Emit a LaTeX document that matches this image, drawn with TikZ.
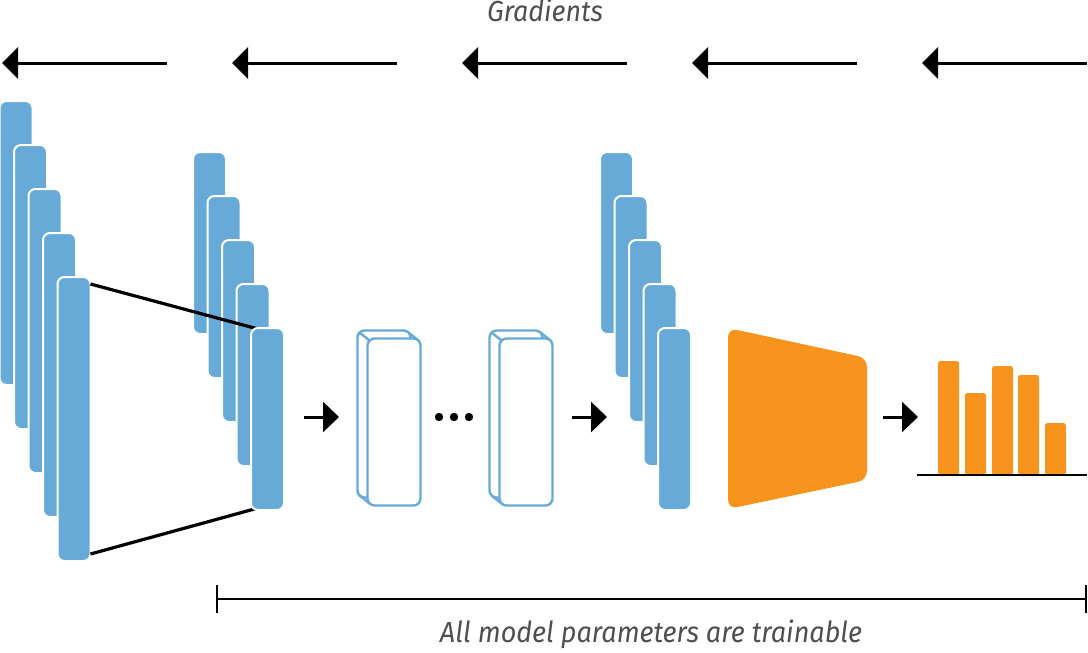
\documentclass[tikz,border=0pt]{standalone}
\usepackage{fontspec}
\setmainfont{Fira Sans}
\usetikzlibrary{arrows.meta}
\pgfdeclarelayer{back}
\pgfdeclarelayer{mid}
\pgfsetlayers{back,mid,main}
\definecolor{cblue}{HTML}{67AAD8}
\definecolor{corange}{HTML}{F7941E}
\definecolor{ctext}{HTML}{4F4F4F}
\begin{document}
\begin{tikzpicture}[x=1pt,y=-1pt,
  bar/.style={fill=cblue, draw=white, line width=2pt, rounded corners=7pt,
              minimum width=33pt, inner sep=0pt, outer sep=0pt},
  tallbar/.style={bar, minimum height=284pt},
  shortbar/.style={bar, minimum height=182pt},
  hollow/.style={fill=white, draw=cblue, line width=2.4pt, rounded corners=7pt,
                 minimum width=53pt, minimum height=167pt, inner sep=0pt, outer sep=0pt},
  boxedge/.style={draw=cblue, line width=2.4pt},
  edgeline/.style={line width=3.2pt, black},
  fwdarrow/.style={line width=3pt, -{Triangle[length=16pt,width=30pt]}},
  gradarrow/.style={line width=3pt, -{Triangle[length=16pt,width=31pt]}},
  probbar/.style={fill=corange, rounded corners=2.5pt},
  caption/.style={text=ctext, font=\fontsize{29}{32}\selectfont\itshape, inner sep=0pt}
]
\useasboundingbox (0,0) rectangle (1088,653);

% gradients label and arrows
\node[caption, anchor=base] (grad) at (545,22) {\resizebox{116pt}{\height}{Gradients}};
\foreach \i in {0,...,4} {
  \coordinate (gs\i) at ({2+230*\i},63);
  \coordinate (ge\i) at ({167+230*\i},63);
  \draw[gradarrow] (ge\i) -- (gs\i);
}

% left stack and middle back bars
\begin{pgfonlayer}{back}
\foreach \i in {1,...,5} {
  \node[tallbar] (L\i) at ({16+14.5*(\i-1)},{243+44*(\i-1)}) {};
}
\foreach \i in {1,...,4} {
  \node[shortbar] (M\i) at ({209.5+14.5*(\i-1)},{243+44*(\i-1)}) {};
}
\end{pgfonlayer}
\node[shortbar] (M5) at ({209.5+14.5*4},{243+44*4}) {};
\begin{pgfonlayer}{mid}
\draw[edgeline] ([yshift=-7pt]L5.north east) -- ([xshift=7pt,yshift=-1pt]M5.north west);
\draw[edgeline] ([yshift=7pt]L5.south east) -- ([xshift=7pt,yshift=2pt]M5.south west);
\end{pgfonlayer}

% hollow boxes (back face, corner edges, front face)
\foreach \b/\x in {1/384, 2/516} {
  \node[hollow] (B\b b) at (\x,414) {};
  \draw[boxedge] ([xshift=2pt,yshift=-2pt]B\b b.north west) -- ++(10,8);
  \draw[boxedge] ([xshift=-2pt,yshift=-2pt]B\b b.north east) -- ++(10,8);
  \draw[boxedge] ([xshift=2pt,yshift=2pt]B\b b.south west) -- ++(10,8);
  \node[hollow] (B\b) at ({\x+10},422) {};
}

% dots
\foreach \x [count=\k] in {439,454,469} {
  \fill (\x,417) circle (4.2pt) coordinate (dot\k);
}

% right stack
\foreach \i in {1,...,5} {
  \node[shortbar] (R\i) at ({616.5+14.5*(\i-1)},{243+44*(\i-1)}) {};
}

% orange head
\fill[corange, rounded corners=9pt] (728,328) -- (867,358) -- (867,480) -- (728,509) -- cycle;
\coordinate (head) at (797,418);

% forward arrows
\coordinate (f1s) at (304,417); \coordinate (f1e) at (339,417);
\coordinate (f2s) at (572,417); \coordinate (f2e) at (607,417);
\coordinate (f3s) at (883,417); \coordinate (f3e) at (918,417);
\draw[fwdarrow] (f1s) -- (f1e);
\draw[fwdarrow] (f2s) -- (f2e);
\draw[fwdarrow] (f3s) -- (f3e);

% bar chart
\fill[probbar] (938,475) rectangle (959,361);
\fill[probbar] (965,475) rectangle (986,393);
\fill[probbar] (992,475) rectangle (1013,366);
\fill[probbar] (1018,475) rectangle (1039,375);
\fill[probbar] (1045,475) rectangle (1066,423);
\coordinate (axl) at (917,475); \coordinate (axr) at (1087,475);
\draw[line width=2.8pt] (axl) -- (axr);

% bracket
\coordinate (brl) at (217,599); \coordinate (brr) at (1086,599);
\draw[line width=2.8pt] (brl) -- (brr);
\draw[line width=2.4pt] ([yshift=-14pt]brl) -- ([yshift=14pt]brl);
\draw[line width=2.4pt] ([yshift=-14pt]brr) -- ([yshift=14pt]brr);
\node[caption, anchor=base] (trainable) at (651,642) {\resizebox{422pt}{\height}{All model parameters are trainable}};
\end{tikzpicture}
\end{document}
